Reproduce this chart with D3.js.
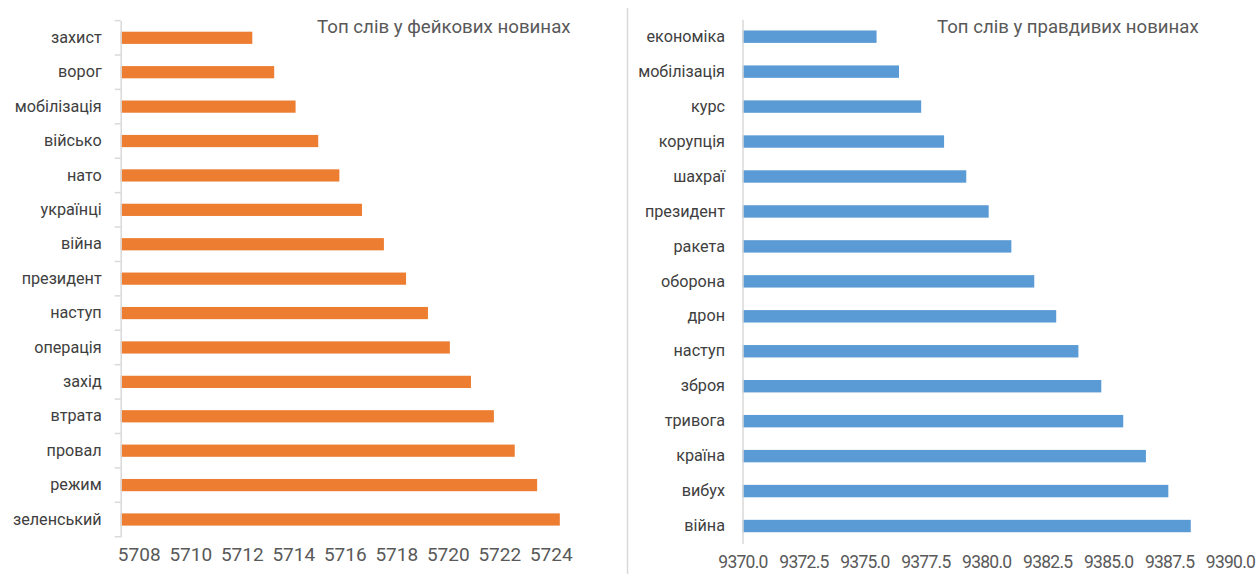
<!DOCTYPE html>
<html>
<head>
<meta charset="utf-8">
<script src="https://cdn.jsdelivr.net/npm/d3@7"></script>
<style>
  body { margin: 0; background: #fff; }
  svg { display: block; }
  text { font-family: Roboto, "Noto Sans", sans-serif; }
</style>
</head>
<body>
<svg id="chart" width="1257" height="574"></svg>
<script>
// Word frequencies in fake news
const fakeWords = ["захист", "ворог", "мобілізація", "військо", "нато", "українці", "війна",
  "президент", "наступ", "операція", "захід", "втрата", "провал", "режим", "зеленський"];
const fakeCounts = [5712.41, 5713.26, 5714.09, 5714.97, 5715.79, 5716.67, 5717.52,
  5718.38, 5719.23, 5720.08, 5720.90, 5721.79, 5722.60, 5723.47, 5724.35];
const fakeTicks = [5708, 5710, 5712, 5714, 5716, 5718, 5720, 5722, 5724];

// Word frequencies in true news
const trueWords = ["економіка", "мобілізація", "курс", "корупція", "шахраї", "президент", "ракета",
  "оборона", "дрон", "наступ", "зброя", "тривога", "країна", "вибух", "війна"];
const trueCounts = [9375.50, 9376.42, 9377.33, 9378.27, 9379.18, 9380.10, 9381.03,
  9381.97, 9382.87, 9383.78, 9384.72, 9385.62, 9386.55, 9387.47, 9388.39];
const trueTicks = [9370, 9372.5, 9375, 9377.5, 9380, 9382.5, 9385, 9387.5, 9390];

const svg = d3.select("#chart");
const axisColor = "#d9d9d9";
const textColor = "#595959";

// Separator between the two charts
svg.append("line")
  .attr("x1", 627.5).attr("x2", 627.5)
  .attr("y1", 8).attr("y2", 574)
  .attr("stroke", axisColor).attr("stroke-width", 1.5);

function drawPanel(p) {
  const x = d3.scaleLinear().domain(p.domain).range(p.xRange);
  const y = d3.scaleBand().domain(p.words).range(p.yRange)
    .paddingInner(0.645).paddingOuter(0.3225);

  const g = svg.append("g");

  // Bars
  g.selectAll("rect.bar")
    .data(p.words.map((w, i) => ({ word: w, value: p.values[i] })))
    .join("rect")
    .attr("class", "bar")
    .attr("x", x(p.domain[0]))
    .attr("y", d => y(d.word))
    .attr("width", d => x(d.value) - x(p.domain[0]))
    .attr("height", y.bandwidth())
    .attr("fill", p.color);

  // Category axis
  const yAxis = g.append("g")
    .attr("transform", `translate(${x(p.domain[0])},0)`)
    .call(d3.axisLeft(y).tickSize(0).tickPadding(p.labelGap));
  yAxis.select(".domain").attr("stroke", axisColor).attr("stroke-width", 1.5);
  yAxis.selectAll("text")
    .attr("fill", p.labelColor)
    .style("font-size", p.labelSize + "px");

  if (p.boundaryTicks) {
    const [y0] = y.range();
    const bounds = d3.range(p.words.length + 1).map(i => y0 + i * y.step());
    yAxis.selectAll("line.bound")
      .data(bounds)
      .join("line")
      .attr("class", "bound")
      .attr("x1", -6).attr("x2", 0)
      .attr("y1", d => d).attr("y2", d => d)
      .attr("stroke", axisColor).attr("stroke-width", 1.5);
  }

  // Value axis labels
  const xAxis = g.append("g")
    .attr("transform", `translate(0,${p.tickY})`)
    .call(d3.axisBottom(x).tickValues(p.ticks).tickSize(0).tickPadding(0).tickFormat(p.format));
  xAxis.select(".domain").remove();
  xAxis.selectAll("text")
    .attr("fill", textColor)
    .attr("dy", "0.35em")
    .style("font-size", p.tickSize + "px")
    .style("letter-spacing", p.tickSpacing + "px");

  // Title
  g.append("text")
    .attr("x", p.titleX).attr("y", p.titleY)
    .attr("fill", textColor)
    .style("font-size", p.titleSize + "px")
    .text(p.title);
}

drawPanel({
  words: fakeWords, values: fakeCounts, ticks: fakeTicks,
  domain: [5707.3, 5724], xRange: [120.7, 550.8], yRange: [20.6, 536.7],
  color: "#ed7d31", format: d3.format("d"),
  labelGap: 19, labelSize: 16.2, labelColor: "#404040", boundaryTicks: true,
  tickY: 554, tickSize: 19, tickSpacing: 0,
  title: "Топ слів у фейкових новинах", titleX: 317, titleY: 33, titleSize: 18.7
});

drawPanel({
  words: trueWords, values: trueCounts, ticks: trueTicks,
  domain: [9370, 9390], xRange: [742.5, 1230], yRange: [19.2, 543.5],
  color: "#5b9bd5", format: d3.format(".1f"),
  labelGap: 17.5, labelSize: 16.2, labelColor: "#404040", boundaryTicks: false,
  tickY: 562, tickSize: 17.5, tickSpacing: -0.75,
  title: "Топ слів у правдивих новинах", titleX: 937, titleY: 33, titleSize: 18.6
});
</script>
</body>
</html>
